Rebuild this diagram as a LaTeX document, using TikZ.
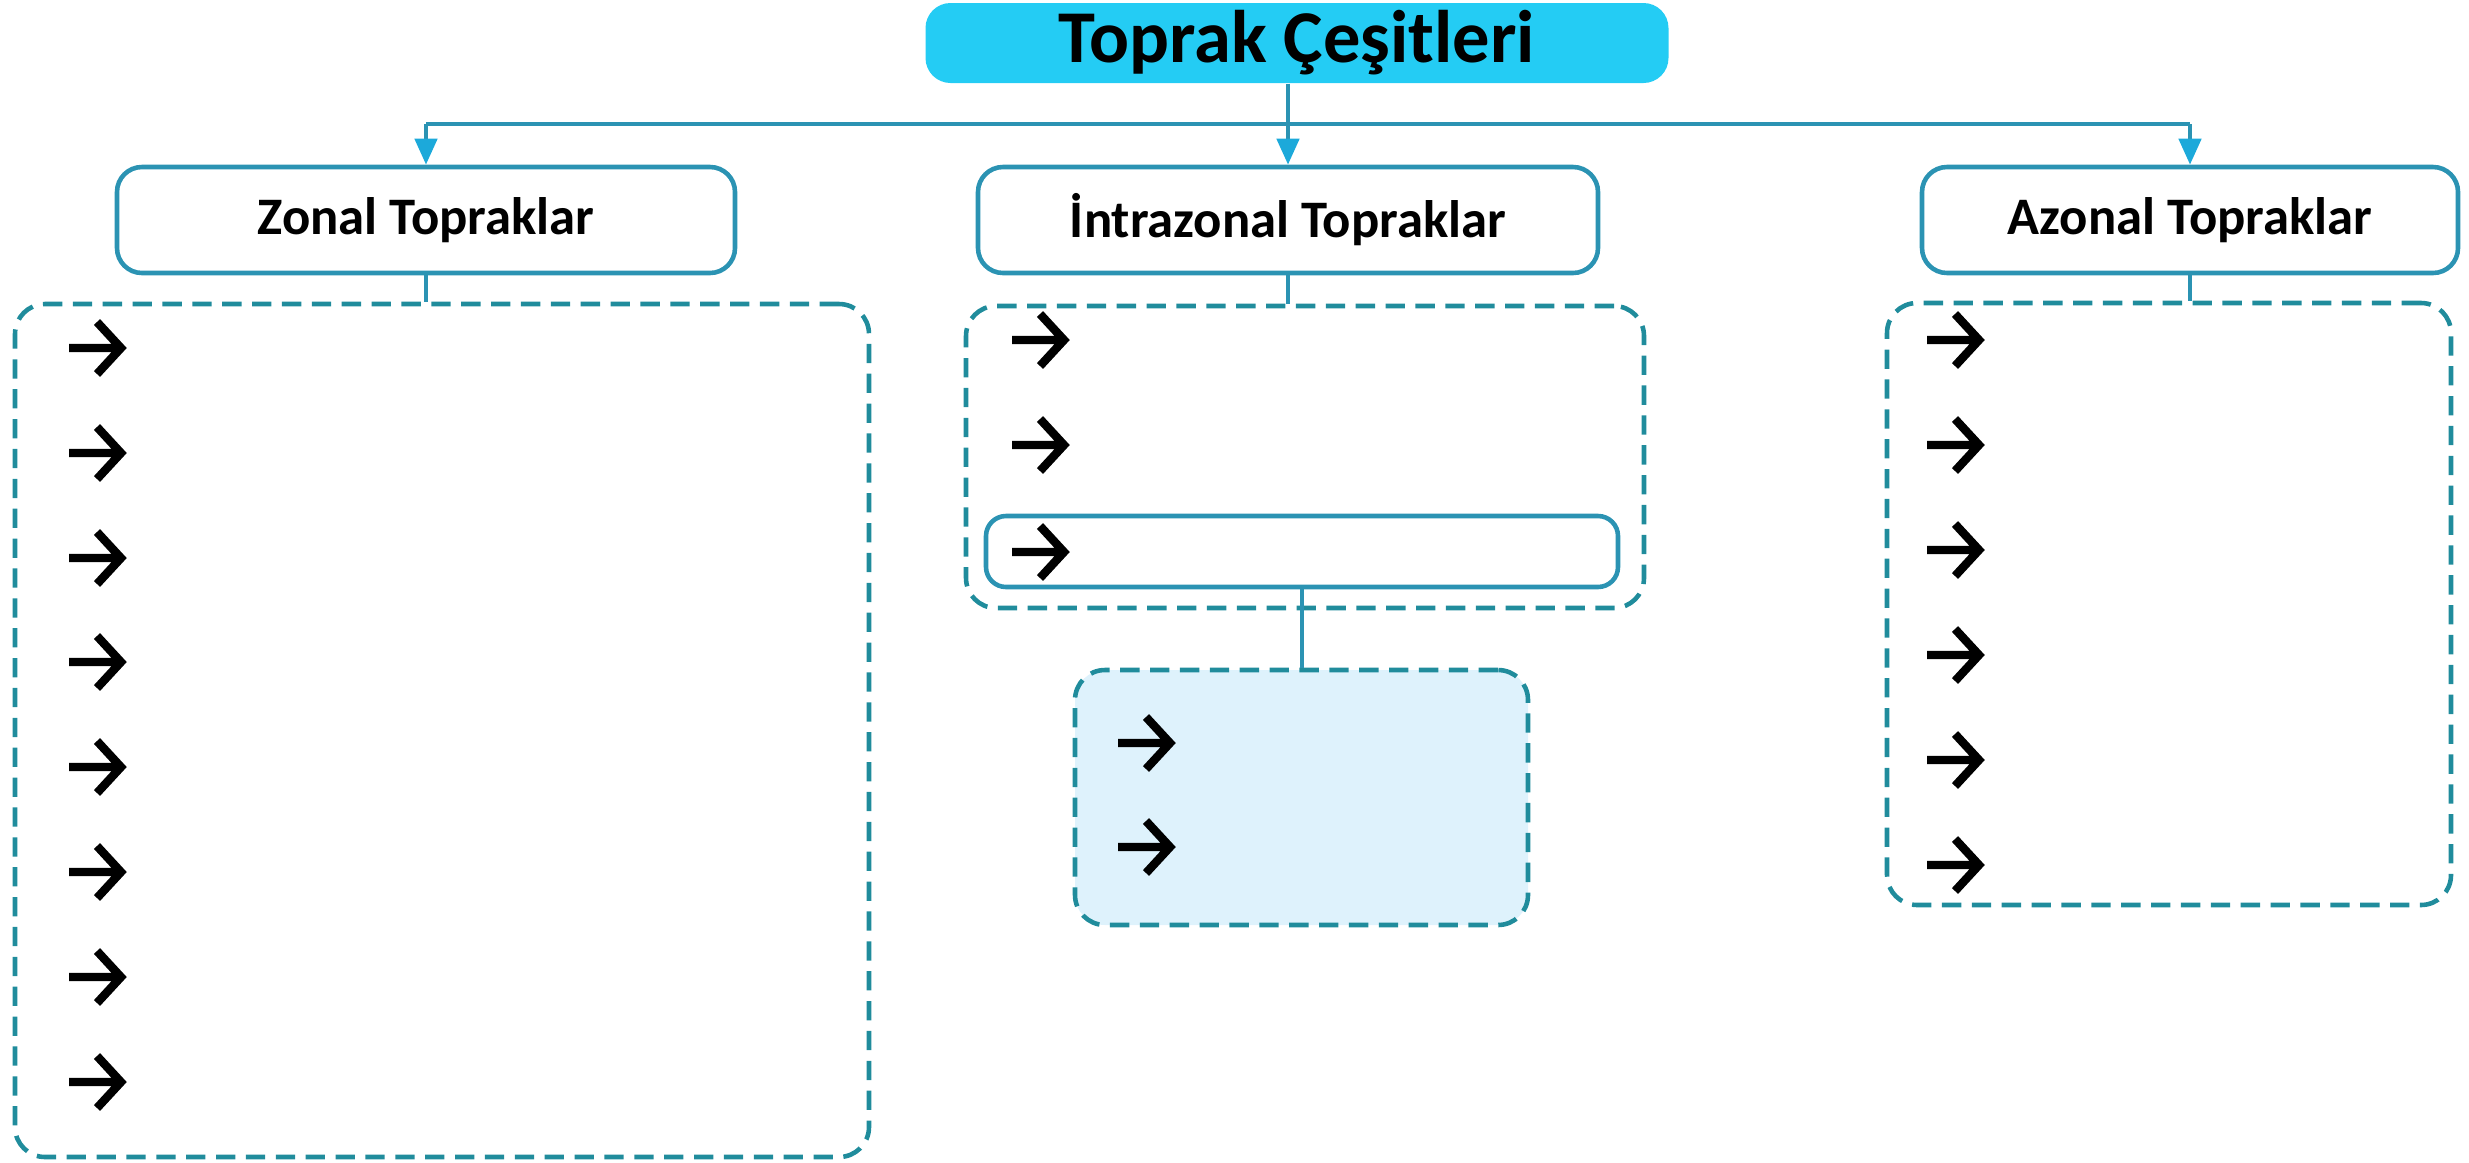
\documentclass[tikz,border=0pt]{standalone}
\usepackage{fontspec}
\setmainfont{Carlito}
\usetikzlibrary{arrows.meta}

\definecolor{titlecyan}{HTML}{24CCF4}
\definecolor{boxline}{HTML}{2B93B3}
\definecolor{linkcyan}{HTML}{1CA9DA}
\definecolor{dashteal}{HTML}{208C9C}
\definecolor{palefill}{HTML}{DEF2FC}

\begin{document}
\begin{tikzpicture}[x=0.1mm, y=-0.1mm,
  head/.style={draw=boxline, line width=1.3pt, rounded corners=2.5mm, fill=white, inner sep=0pt,
    font=\bfseries\fontsize{15}{18}\selectfont, minimum height=10.6mm},
  holder/.style={draw=dashteal, line width=1.3pt, dash pattern=on 5.5pt off 3pt, rounded corners=3mm, inner sep=0pt},
  link/.style={draw=boxline, line width=1.3pt},
  pointer/.style={line width=2.4pt, line cap=butt, line join=miter}]

\useasboundingbox (0,0) rectangle (2469,1162);

% Title
\node[fill=titlecyan, rounded corners=2.5mm, minimum width=74.3mm, minimum height=8mm, inner sep=0pt,
  font=\bfseries\fontsize{21.2}{25}\selectfont] (title) at (1297,43) {Toprak Çeşitleri};

% Soil groups
\node[head, minimum width=61.8mm] (zonal) at (426,220) {Zonal Topraklar};
\node[head, minimum width=62mm] (intra) at (1288,220) {İntrazonal Topraklar};
\node[head, minimum width=53.6mm] (azonal) at (2190,220) {Azonal Topraklar};

% Dashed lists
\node[holder, minimum width=85.4mm, minimum height=85.3mm] (zonalList) at (442,730.5) {};
\node[holder, minimum width=67.8mm, minimum height=30.2mm] (intraList) at (1305,457) {};
\node[draw=boxline, line width=1.3pt, rounded corners=2mm, minimum width=63.2mm, minimum height=7.1mm,
  inner sep=0pt] (inner) at (1302,551.5) {};
\node[holder, fill=palefill, minimum width=45.3mm, minimum height=25.5mm] (paleList) at (1301.5,797.5) {};
\node[holder, minimum width=56.4mm, minimum height=60.2mm] (azonalList) at (2169,604) {};

% Branches
\coordinate (hub) at (1288,124);
\draw[link] (title.south -| hub) -- (hub);
\draw[link] (zonal.north |- hub) -- (azonal.north |- hub);
\foreach \b in {zonal,intra,azonal}
  \draw[link, -{Triangle[length=2.6mm, width=2.2mm, color=linkcyan]}] (\b.north |- hub) -- (\b.north);

\draw[link] (zonal.south) -- (zonal.south |- zonalList.north);
\draw[link] (intra.south) -- (intra.south |- intraList.north);
\draw[link] (azonal.south) -- (azonal.south |- azonalList.north);
\draw[link] (inner.south) -- (inner.south |- paleList.north);

% Pointers
\foreach \x/\y in {69/348, 69/453, 69/558, 69/662, 69/767, 69/872, 69/977, 69/1082,
    1012/340, 1012/445, 1012/552, 1118/743, 1118/847,
    1927/340, 1927/445, 1927/550, 1927/655, 1927/760, 1927/865}
  \draw[pointer] (\x,\y) -- ++(52,0) ++(-24,-26) -- ++(24,26) -- ++(-24,26);

\end{tikzpicture}
\end{document}
